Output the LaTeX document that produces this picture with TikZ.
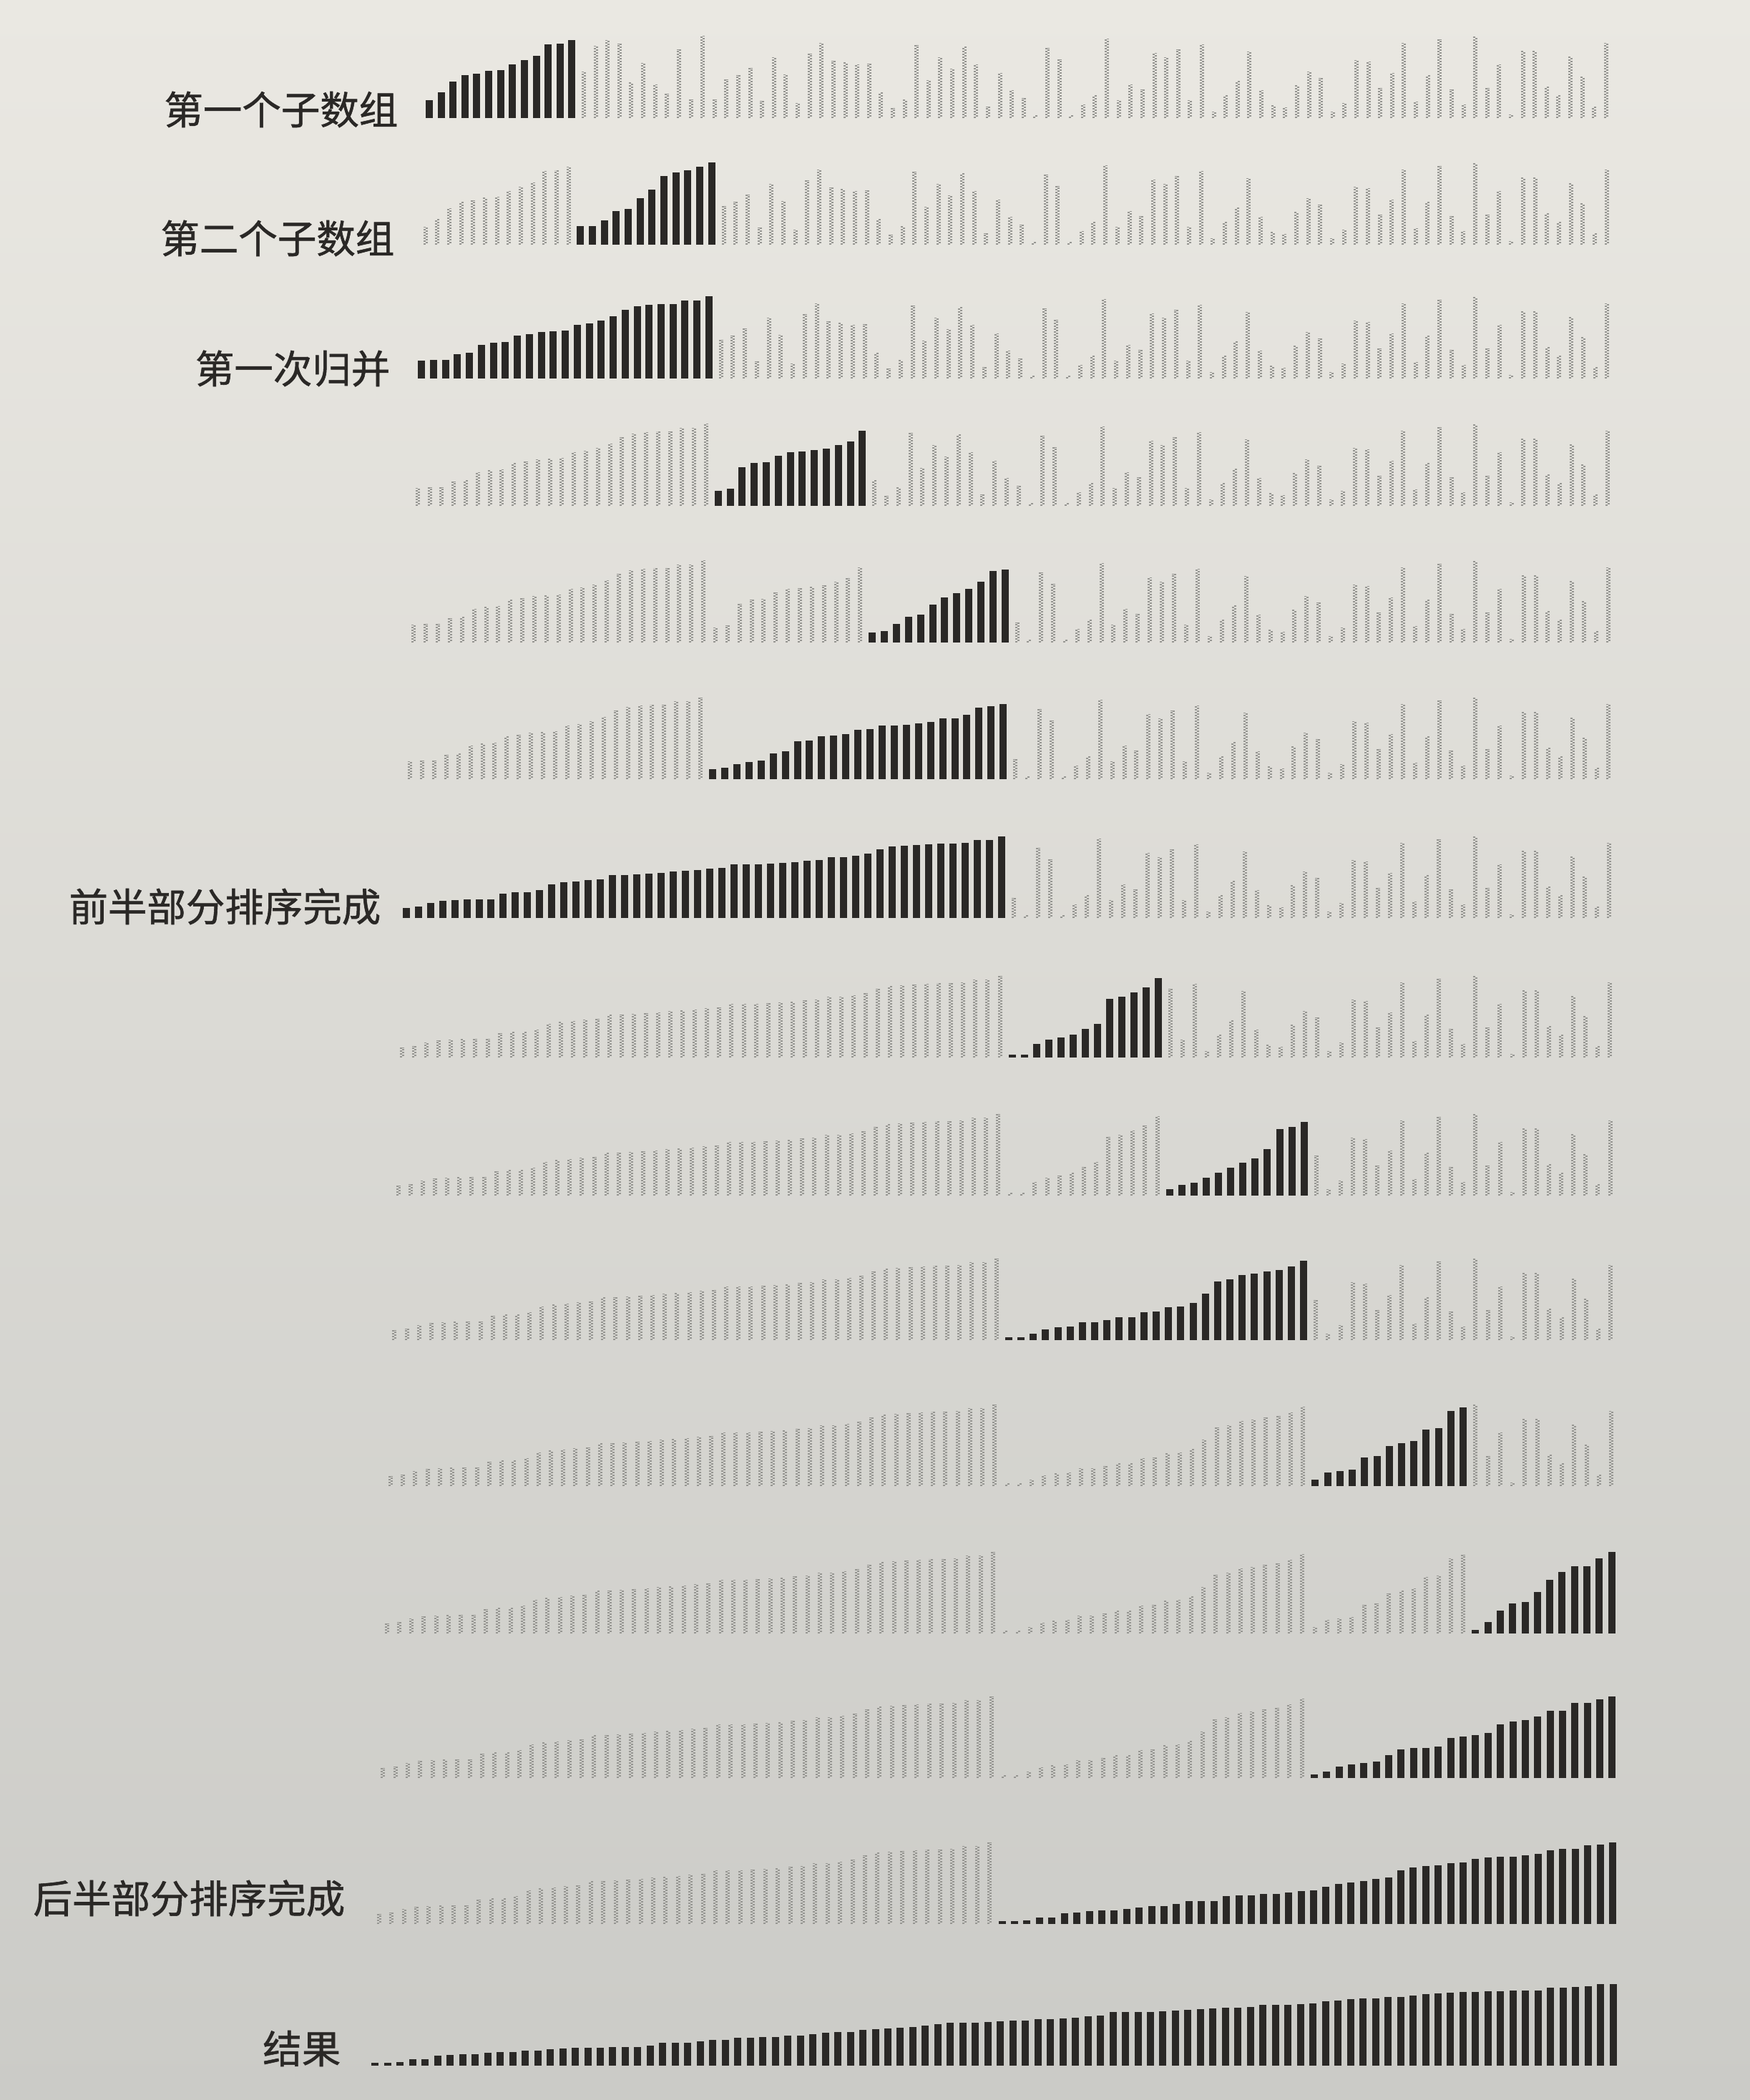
\documentclass[tikz,border=0pt]{standalone}
\usepackage{fontspec}
\newfontfamily\cjk[FakeBold=1]{Noto Sans CJK SC}
\ExplSyntaxOn
\intarray_new:Nn \g_msvals_intarray {100}
\seq_new:N \l_msrun_seq
\int_new:N \l_msidx_int
\NewDocumentCommand \msinit {m}
  {
    \int_zero:N \l_msidx_int
    \clist_map_inline:nn {#1}
      {
        \int_incr:N \l_msidx_int
        \intarray_gset:Nnn \g_msvals_intarray {\l_msidx_int} {##1}
      }
  }
\NewDocumentCommand \mssort {mm}
  {
    \seq_clear:N \l_msrun_seq
    \int_step_inline:nnn {#1} {#2}
      { \seq_put_right:Nx \l_msrun_seq { \intarray_item:Nn \g_msvals_intarray {##1} } }
    \seq_sort:Nn \l_msrun_seq
      {
        \int_compare:nNnTF {##1} > {##2}
          { \sort_return_swapped: }
          { \sort_return_same: }
      }
    \int_set:Nn \l_msidx_int {#1}
    \seq_map_inline:Nn \l_msrun_seq
      {
        \intarray_gset:Nnn \g_msvals_intarray {\l_msidx_int} {##1}
        \int_incr:N \l_msidx_int
      }
  }
\NewExpandableDocumentCommand \msval {m} { \intarray_item:Nn \g_msvals_intarray {#1} }
\ExplSyntaxOff
\definecolor{paperTop}{RGB}{234,232,226}
\definecolor{paperBot}{RGB}{203,203,199}
\definecolor{ink}{RGB}{42,40,38}
\definecolor{stip}{RGB}{150,150,146}
\tikzset{
  blackbar/.style={draw=ink, line width=0.1cm},
  grayL/.style={draw=stip, line width=0.03cm, dash pattern=on 0.02cm off 0.02cm},
  grayR/.style={draw=stip, line width=0.03cm, dash pattern=on 0.02cm off 0.02cm, dash phase=0.02cm},
  lab/.style={anchor=east, font=\cjk\fontsize{15.5}{18}\selectfont, text=ink, inner sep=0pt}
}
\newcommand\msrow[4]{%
  \mssort{#2}{#3}%
  \pgfmathsetmacro\xa{6.00-(#1-1)*0.054}%
  \pgfmathsetmacro\xb{22.45+(#1-1)*0.007}%
  \pgfmathsetmacro\ddx{(\xb-\xa)/99}%
  \pgfmathsetmacro\ry{-#4/100}%
  \foreach \i in {1,...,100}{%
    \edef\mv{\msval{\i}}%
    \pgfmathsetmacro\bx{\xa+(\i-1)*\ddx}%
    \pgfmathsetmacro\bh{0.02+\mv*0.0035}%
    \ifnum\i<#2\relax\def\isblack{0}\else\ifnum\i>#3\relax\def\isblack{0}\else\def\isblack{1}\fi\fi
    \ifnum\isblack=1\relax
      \draw[blackbar] (\bx,\ry) -- ++(0,\bh);
    \else
      \draw[grayL] (\bx-0.015,\ry) -- ++(0,\bh);
      \draw[grayR] (\bx+0.015,\ry) -- ++(0,\bh);
    \fi
  }%
}
\begin{document}
\begin{tikzpicture}
\useasboundingbox (0,0) rectangle (24.46,-29.35);
\shade[top color=paperTop, bottom color=paperBot] (0,0) rectangle (24.46,-29.35);
\msinit{65,97,140,165,173,182,187,208,225,242,288,292,307,
179,282,305,293,137,215,129,92,270,69,322,70,149,167,195,64,237,170,54,252,295,224,217,210,213,97,35,68,287,145,238,192,280,208,41,175,
107,75,5,275,230,5,50,85,312,65,130,110,255,237,270,65,288,20,85,142,260,107,45,37,125,180,155,20,55,225,220,115,175,295,60,165,310,110,50,320,115,210,10,262,262,120,85,240,160,40,295}
\msrow{1}{1}{13}{165}
\msrow{2}{14}{25}{342}
\msrow{3}{1}{25}{529}
\msrow{4}{26}{38}{707}
\msrow{5}{39}{50}{898}
\msrow{6}{26}{50}{1089}
\msrow{7}{1}{50}{1283}
\msrow{8}{51}{63}{1478}
\msrow{9}{64}{75}{1671}
\msrow{10}{51}{75}{1873}
\msrow{11}{76}{88}{2077}
\msrow{12}{89}{100}{2283}
\msrow{13}{76}{100}{2485}
\msrow{14}{51}{100}{2689}
\msrow{15}{1}{100}{2887}
\node[lab] (l1) at (5.57,-1.53) {第一个子数组};
\node[lab] (l2) at (5.52,-3.33) {第二个子数组};
\node[lab] (l3) at (5.46,-5.15) {第一次归并};
\node[lab] (l7) at (5.33,-12.67) {前半部分排序完成};
\node[lab] (l14) at (4.83,-26.53) {后半部分排序完成};
\node[lab] (l15) at (4.77,-28.63) {结果};
\end{tikzpicture}
\end{document}
